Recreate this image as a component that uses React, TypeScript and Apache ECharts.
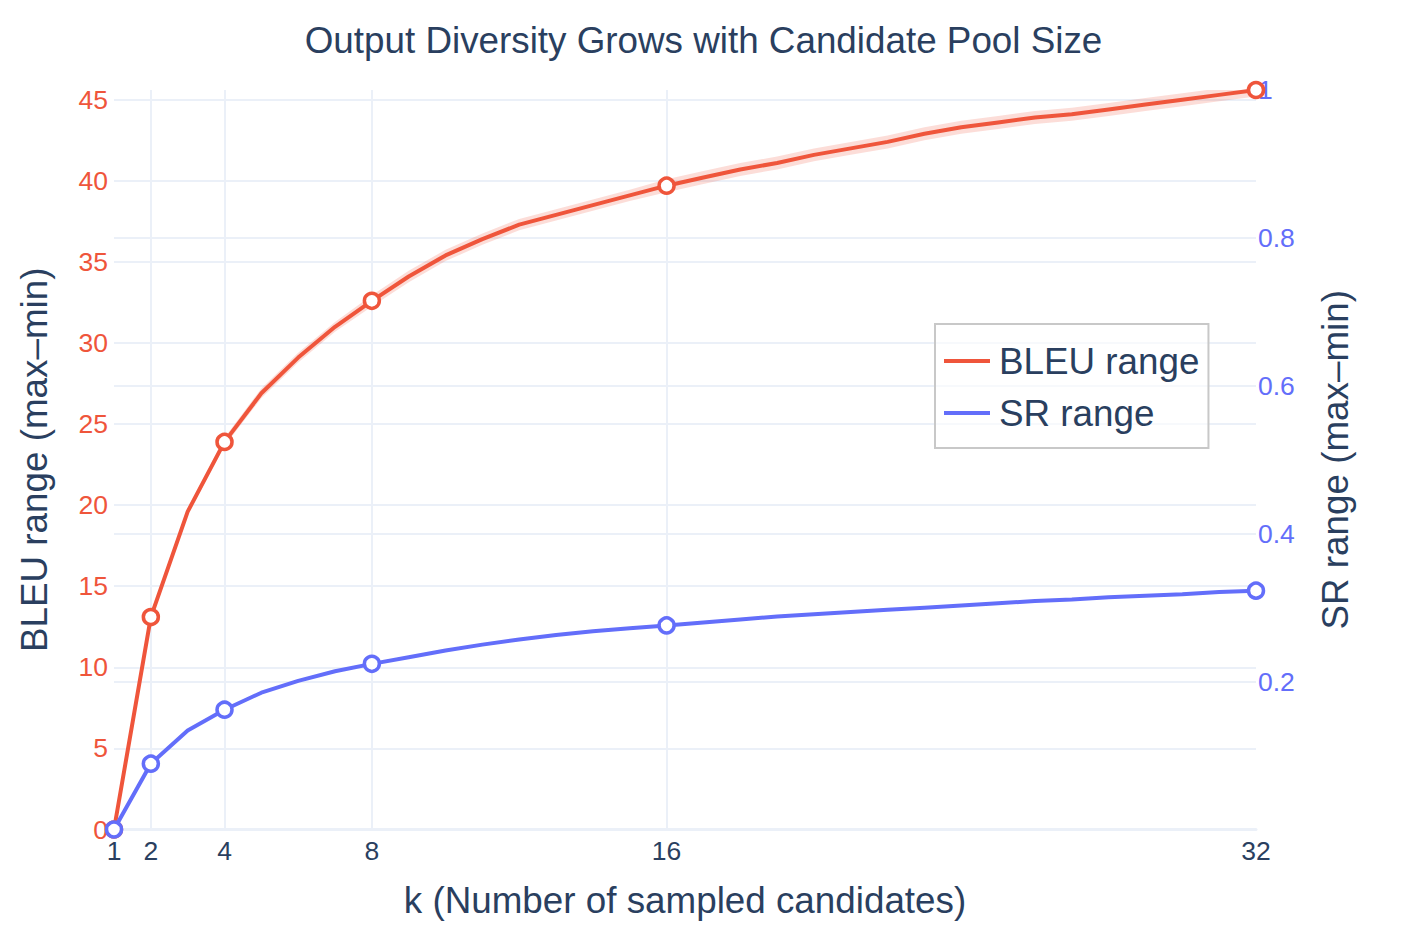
import React, { useEffect, useRef } from "react";
import * as echarts from "echarts";

// ---- data ----
const ks = [1, 2, 3, 4, 5, 6, 7, 8, 9, 10, 11, 12, 13, 14, 15, 16, 17, 18, 19, 20, 21, 22, 23, 24, 25, 26, 27, 28, 29, 30, 31, 32];
const bleuRange = [0, 13.1, 19.6, 23.9, 26.9, 29.1, 31.0, 32.6, 34.1, 35.4, 36.4, 37.3, 37.9, 38.5, 39.1, 39.7, 40.2, 40.7, 41.1, 41.6, 42.0, 42.4, 42.9, 43.3, 43.6, 43.9, 44.1, 44.4, 44.7, 45.0, 45.3, 45.6];
const bleuBand = [0, 0.1, 0.2, 0.25, 0.3, 0.3, 0.3, 0.35, 0.35, 0.35, 0.35, 0.35, 0.35, 0.35, 0.35, 0.4, 0.4, 0.4, 0.4, 0.4, 0.4, 0.4, 0.4, 0.4, 0.4, 0.4, 0.4, 0.4, 0.4, 0.4, 0.4, 0.4];
const srRange = [0, 0.089, 0.134, 0.162, 0.185, 0.201, 0.214, 0.224, 0.233, 0.242, 0.25, 0.257, 0.263, 0.268, 0.272, 0.276, 0.28, 0.284, 0.288, 0.291, 0.294, 0.297, 0.3, 0.303, 0.306, 0.309, 0.311, 0.314, 0.316, 0.318, 0.321, 0.323];
const markerKs = [1, 2, 4, 8, 16, 32];
const xTicks = [1, 2, 4, 8, 16, 32];

const TITLE = "Output Diversity Grows with Candidate Pool Size";
const X_NAME = "k (Number of sampled candidates)";
const Y1_NAME = "BLEU range (max–min)";
const Y2_NAME = "SR range (max–min)";
const BLEU_NAME = "BLEU range";
const SR_NAME = "SR range";

const RED = "#EF553B";
const BLUE = "#636EFA";
const INK = "#2a3f5f";
const GRID = "#EBF0F8";
const FONT = "'Liberation Sans', Arial, sans-serif";
const BIG = 36.8;
const TICK = 26.5;

export default function App() {
  const ref = useRef<HTMLDivElement>(null);

  useEffect(() => {
    if (!ref.current) return;
    const chart = echarts.init(ref.current, null, { renderer: "svg" });

    const lineData = (vals: number[]) =>
      ks.map((k, i) =>
        markerKs.includes(k) ? { value: [k, vals[i]] } : { value: [k, vals[i]], symbol: "none" }
      );

    const bandData = ks.map((k, i) => [k, bleuRange[i] - bleuBand[i], bleuRange[i] + bleuBand[i]]);

    chart.setOption({
      animation: false,
      backgroundColor: "#fff",
      textStyle: { fontFamily: FONT },
      title: {
        text: TITLE,
        left: "center",
        top: 22,
        padding: 0,
        textStyle: { fontFamily: FONT, fontSize: BIG, fontWeight: "normal", color: INK },
      },
      legend: {
        orient: "vertical",
        left: 935,
        top: 324,
        padding: [17, 9, 15, 9],
        itemGap: 12,
        itemWidth: 46,
        itemHeight: 4,
        icon: "rect",
        backgroundColor: "rgba(255,255,255,0.6)",
        borderColor: "#c8c8c8",
        borderWidth: 2,
        borderRadius: 0,
        textStyle: { fontFamily: FONT, fontSize: BIG, color: INK, lineHeight: 40, padding: [0, 0, 0, 4] },
        data: [
          { name: BLEU_NAME, itemStyle: { color: RED, borderWidth: 0 } },
          { name: SR_NAME, itemStyle: { color: BLUE, borderWidth: 0 } },
        ],
      },
      grid: { left: 114, right: 151, top: 90, bottom: 108.5, containLabel: false, outerBoundsMode: "none" },
      xAxis: {
        type: "value",
        min: 1,
        max: 32,
        name: X_NAME,
        nameLocation: "middle",
        nameGap: 52,
        nameMoveOverlap: false,
        nameTextStyle: { fontFamily: FONT, fontSize: BIG, color: INK },
        axisLine: { show: true, onZero: false, lineStyle: { color: GRID, width: 3 } },
        axisTick: { show: false, customValues: xTicks },
        axisLabel: { customValues: xTicks, color: INK, fontSize: TICK, margin: 8, fontFamily: FONT },
        splitLine: { show: true, showMinLine: false, showMaxLine: false, lineStyle: { color: GRID, width: 2 } },
      },
      yAxis: [
        {
          type: "value",
          min: 0,
          max: 45.6,
          interval: 5,
          position: "left",
          name: Y1_NAME,
          nameLocation: "middle",
          nameGap: 61,
          nameRotate: 90,
          nameMoveOverlap: false,
          nameTextStyle: { fontFamily: FONT, fontSize: BIG, color: INK },
          axisLine: { show: false },
          axisTick: { show: false },
          axisLabel: { color: RED, fontSize: TICK, margin: 6, showMaxLabel: false, fontFamily: FONT },
          splitLine: { show: true, showMaxLine: false, lineStyle: { color: GRID, width: 2 } },
        },
        {
          type: "value",
          min: 0,
          max: 1,
          interval: 0.2,
          position: "right",
          name: Y2_NAME,
          nameLocation: "middle",
          nameGap: 61,
          nameRotate: 90,
          nameMoveOverlap: false,
          nameTextStyle: { fontFamily: FONT, fontSize: BIG, color: INK },
          axisLine: { show: false },
          axisTick: { show: false },
          axisLabel: { color: BLUE, fontSize: TICK, margin: 2, showMinLabel: false, fontFamily: FONT },
          splitLine: { show: true, showMaxLine: false, showMinLine: false, lineStyle: { color: GRID, width: 2 } },
        },
      ],
      series: [
        {
          type: "custom",
          name: "band",
          xAxisIndex: 0,
          yAxisIndex: 0,
          clip: true,
          z: 1,
          silent: true,
          encode: { x: 0, y: [1, 2] },
          data: bandData,
          renderItem: (params: any, api: any) => {
            if (params.dataIndex !== 0) return null;
            const upper = bandData.map((d) => api.coord([d[0], d[2]]));
            const lower = bandData.map((d) => api.coord([d[0], d[1]])).reverse();
            return {
              type: "polygon",
              shape: { points: upper.concat(lower) },
              style: { fill: "rgba(239,85,59,0.2)", stroke: "none" },
            };
          },
        },
        {
          type: "line",
          name: BLEU_NAME,
          xAxisIndex: 0,
          yAxisIndex: 0,
          z: 3,
          data: lineData(bleuRange),
          symbol: "circle",
          symbolSize: 15,
          showAllSymbol: true,
          lineStyle: { color: RED, width: 4 },
          itemStyle: { color: "#fff", borderColor: RED, borderWidth: 3.5 },
          emphasis: { disabled: true },
        },
        {
          type: "line",
          name: SR_NAME,
          xAxisIndex: 0,
          yAxisIndex: 1,
          z: 4,
          data: lineData(srRange),
          symbol: "circle",
          symbolSize: 15,
          showAllSymbol: true,
          lineStyle: { color: BLUE, width: 4 },
          itemStyle: { color: "#fff", borderColor: BLUE, borderWidth: 3.5 },
          emphasis: { disabled: true },
        },
      ],
    });

    return () => chart.dispose();
  }, []);

  return (
    <div
      ref={ref}
      style={{ position: "fixed", left: 0, top: 0, width: 1407, height: 938, background: "#fff" }}
    />
  );
}
